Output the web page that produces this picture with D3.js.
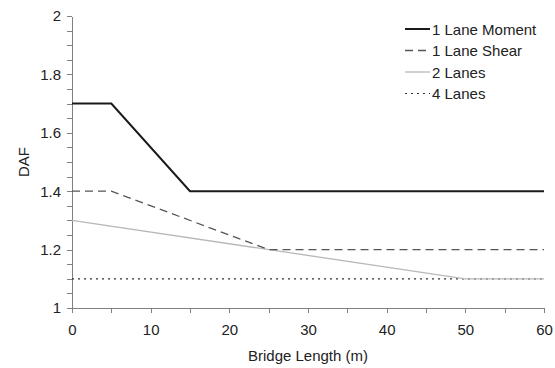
<!DOCTYPE html>
<html>
<head>
  <script src="https://d3js.org/d3.v7.min.js"></script>
  <style>
    body { margin: 0; background: #fff; }
    svg { font-family: Arial, "Liberation Sans", sans-serif; }
    .axis path, .axis line { stroke: #808080; stroke-width: 1px; shape-rendering: crispEdges; }
    .axis text { font-size: 15px; fill: #222; }
  </style>
</head>
<body>
<svg id="chart"></svg>
<script>
// data
const seriesNames = ["1 Lane Moment", "1 Lane Shear", "2 Lanes", "4 Lanes"];
const momentX = [0, 5, 15, 60];
const momentY = [1.7, 1.7, 1.4, 1.4];
const shearX = [0, 5, 25, 60];
const shearY = [1.4, 1.4, 1.2, 1.2];
const twoLaneX = [0, 50, 60];
const twoLaneY = [1.3, 1.1, 1.1];
const fourLaneX = [0, 60];
const fourLaneY = [1.1, 1.1];
const xTicks = [0, 10, 20, 30, 40, 50, 60];
const yTicks = [1, 1.2, 1.4, 1.6, 1.8, 2];

const width = 555, height = 368;
const margin = { left: 72, right: 11, top: 16, bottom: 60 };

const svg = d3.select("#chart").attr("width", width).attr("height", height);

const x = d3.scaleLinear().domain([0, 60]).range([margin.left, width - margin.right]);
const y = d3.scaleLinear().domain([1, 2]).range([height - margin.bottom, margin.top]);

// minor ticks
svg.append("g").attr("class", "axis")
  .attr("transform", `translate(${margin.left},0)`)
  .call(d3.axisLeft(y).tickValues(d3.range(1, 2.001, 0.05)).tickSize(5).tickFormat(""))
  .select(".domain").remove();
svg.append("g").attr("class", "axis")
  .attr("transform", `translate(0,${height - margin.bottom})`)
  .call(d3.axisBottom(x).tickValues(d3.range(0, 61, 5)).tickSize(5).tickFormat(""))
  .select(".domain").remove();

// major axes
svg.append("g").attr("class", "axis")
  .attr("transform", `translate(${margin.left},0)`)
  .call(d3.axisLeft(y).tickValues(yTicks).tickSize(5).tickSizeOuter(0).tickPadding(6).tickFormat(d3.format("")));
svg.append("g").attr("class", "axis")
  .attr("transform", `translate(0,${height - margin.bottom})`)
  .call(d3.axisBottom(x).tickValues(xTicks).tickSize(5).tickSizeOuter(0).tickPadding(11));

// titles
svg.append("text").attr("x", (x(0) + x(60)) / 2).attr("y", 361)
  .attr("text-anchor", "middle").attr("font-size", 15).attr("fill", "#222")
  .text("Bridge Length (m)");
svg.append("text").attr("transform", `translate(29,${(y(1) + y(2)) / 2}) rotate(-90)`)
  .attr("text-anchor", "middle").attr("font-size", 15).attr("fill", "#222")
  .text("DAF");

const styles = [
  { color: "#1a1a1a", width: 2, dash: null },
  { color: "#555", width: 1.3, dash: "8,5" },
  { color: "#b8b8b8", width: 1.3, dash: null },
  { color: "#333", width: 1.2, dash: "2,4" }
];
const series = [
  d3.zip(momentX, momentY),
  d3.zip(shearX, shearY),
  d3.zip(twoLaneX, twoLaneY),
  d3.zip(fourLaneX, fourLaneY)
];

const line = d3.line().x(d => x(d[0])).y(d => y(d[1]));

// draw in back-to-front order
[3, 2, 1, 0].forEach(i => {
  svg.append("path")
    .datum(series[i])
    .attr("fill", "none")
    .attr("stroke", styles[i].color)
    .attr("stroke-width", styles[i].width)
    .attr("stroke-dasharray", styles[i].dash)
    .attr("d", line);
});

// legend
const legend = svg.append("g").attr("transform", "translate(405,29)");
seriesNames.forEach((name, i) => {
  const g = legend.append("g").attr("transform", `translate(0,${i * 21.5})`);
  g.append("line").attr("x1", 0).attr("x2", 25).attr("y1", 0).attr("y2", 0)
    .attr("stroke", styles[i].color).attr("stroke-width", styles[i].width)
    .attr("stroke-dasharray", styles[i].dash);
  g.append("text").attr("x", 27).attr("y", 5.5).attr("font-size", 15).attr("fill", "#222").text(name);
});
</script>
</body>
</html>
